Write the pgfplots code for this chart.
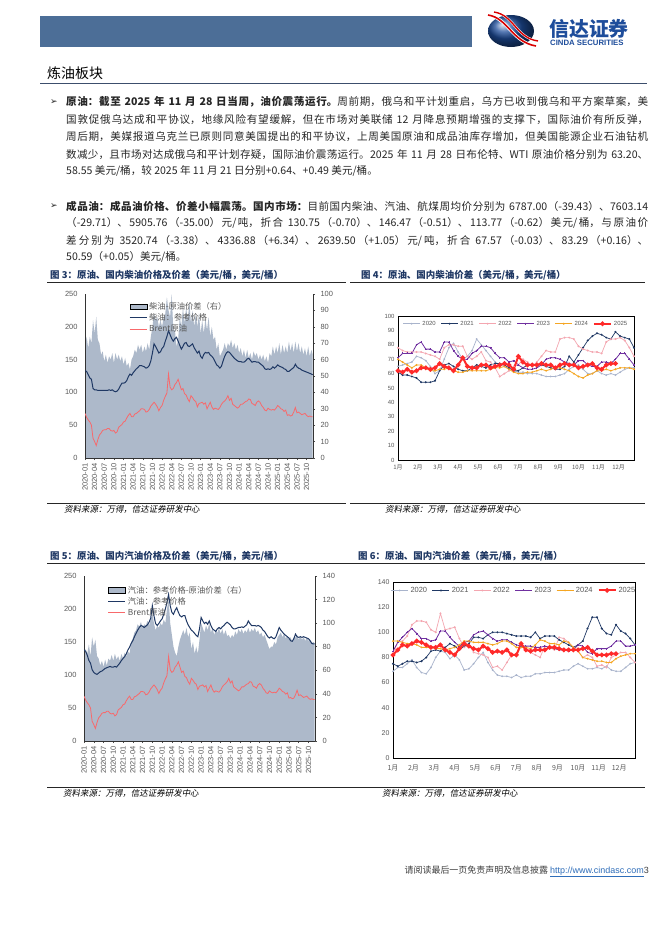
\documentclass[border=0pt]{standalone}
\usepackage{pgfplots}
\pgfplotsset{compat=1.18}
\usepackage{pgfplotstable}
\usepackage{fontspec}
\setmainfont{Noto Sans CJK SC}
\newfontfamily\arial{Liberation Sans}
\newfontfamily\dejavu{DejaVu Sans}
\newfontfamily\cjkit[FakeSlant=0.2]{Noto Sans CJK SC}
\XeTeXlinebreaklocale "zh"
\XeTeXlinebreakskip=0pt plus 1pt

\definecolor{headblue}{HTML}{4C6E97}
\definecolor{titleblue}{HTML}{1F3864}
\definecolor{logoblue}{HTML}{1E4D9B}
\definecolor{areac}{HTML}{ADB9CA}
\definecolor{navy}{HTML}{1F3864}
\definecolor{brent}{HTML}{F8696B}
\definecolor{c20}{HTML}{A9B4CC}
\definecolor{c21}{HTML}{1F3864}
\definecolor{c22}{HTML}{F4A6B0}
\definecolor{c23}{HTML}{7030A0}
\definecolor{c24}{HTML}{F5A623}
\definecolor{c25}{HTML}{FF2A2A}
\definecolor{tickgray}{HTML}{595959}
\definecolor{urlblue}{HTML}{2F6EBA}

% one justified line of body text
\newcommand\jl[1]{\parbox{582bp}{\parfillskip=0pt\spaceskip=0.3em plus 1pt\relax #1}}

% half-monthly: spread diesel, diesel, spread gasoline, gasoline, brent
\pgfplotstableread{
m s3 d s5 g b
0 66 133 74 138 68
0.5 74 132 78 136 62
1 67 127 74 130 58
1.5 74 122 82 122 55
2 70 120 72 118 50
2.5 84 106 88 108 30
3 76 104 80 104 25
3.5 86 104 86 102 19
4 72 103 72 101 28
4.5 70 103 70 103 35
5 63 103 64 105 38
5.5 65 103 68 106 42
6 59 103 63 108 43
6.5 63 103 69 110 43
7 58 103 64 111 45
7.5 62 104 70 112 45
8 60 103 68 113 42
8.5 64 104 73 112 41
9 58 102 68 112 42
9.5 64 101 74 113 38
10 60 102 69 112 40
10.5 63 105 72 115 47
11 59 110 68 118 49
11.5 62 114 74 122 51
12 57 114 70 125 55
12.5 61 115 75 128 56
13 56 118 72 132 61
13.5 58 124 76 138 65
14 54 128 74 142 68
14.5 60 126 84 148 63
15 62 130 87 152 63
15.5 66 133 92 158 67
16 64 136 94 163 68
16.5 69 138 99 168 70
17 66 141 97 172 72
17.5 69 141 101 175 75
18 64 140 96 174 75
18.5 68 139 99 172 74
19 65 137 98 174 70
19.5 70 138 102 176 71
20 66 141 98 180 74
20.5 74 148 103 186 79
21 80 160 108 205 82
21.5 88 174 100 190 85
22 84 170 94 178 82
22.5 86 165 98 175 78
23 80 160 96 178 72
23.5 84 162 100 182 77
24 80 167 98 185 80
24.5 86 170 103 192 88
25 88 178 100 200 94
25.5 98 185 112 210 99
26 90 194 120 222 128
26.5 86 188 100 205 108
27 100 182 90 195 104
27.5 78 178 80 192 106
28 78 182 75 198 112
28.5 68 184 72 202 115
29 72 178 80 195 120
29.5 86 172 86 190 112
30 80 166 90 188 104
30.5 92 170 94 190 106
31 82 175 90 190 98
31.5 92 176 96 182 96
32 84 171 88 176 90
32.5 95 170 92 172 86
33 82 172 78 168 95
33.5 90 174 84 166 92
34 80 168 74 163 88
34.5 88 164 80 160 86
35 80 160 74 158 78
35.5 88 163 86 170 83
36 76 155 100 187 84
36.5 84 152 96 182 85
37 76 158 92 178 82
37.5 85 161 98 180 84
38 78 160 94 177 75
38.5 86 161 100 182 80
39 74 157 92 175 85
39.5 80 155 96 170 78
40 72 152 90 168 74
40.5 74 147 94 166 76
41 66 142 92 170 75
41.5 70 140 96 172 74
42 62 137 91 170 77
42.5 64 140 95 173 82
43 66 148 90 175 85
43.5 70 155 94 178 87
44 66 160 89 180 90
44.5 70 162 90 178 95
45 68 161 87 176 88
45.5 72 158 90 172 91
46 67 155 88 170 82
46.5 70 152 93 170 80
47 66 150 90 171 78
47.5 69 148 95 172 76
48 64 147 92 172 78
48.5 67 147 95 173 82
49 62 146 91 172 82
49.5 66 146 94 174 84
50 61 148 92 176 86
50.5 66 151 96 182 87
51 61 152 92 178 90
51.5 64 149 95 175 89
52 60 146 93 175 83
52.5 65 147 96 175 82
53 62 147 92 174 80
53.5 64 146 94 175 85
54 60 146 90 174 87
54.5 63 144 92 172 85
55 60 142 88 168 80
55.5 63 140 90 166 77
56 59 136 86 162 73
56.5 62 135 82 158 72
57 58 136 78 156 76
57.5 64 135 80 158 74
58 62 136 80 156 73
58.5 68 139 84 155 74
59 63 137 82 158 73
59.5 68 139 88 165 76
60 64 142 90 172 80
60.5 70 140 92 168 78
61 63 139 88 165 75
61.5 69 138 91 162 74
62 64 136 87 160 71
62.5 68 135 89 158 73
63 64 132 86 156 65
63.5 71 132 88 152 66
64 65 134 84 151 64
64.5 70 136 88 155 65
65 64 138 88 162 70
65.5 71 143 90 158 77
66 65 139 86 157 69
66.5 70 137 89 158 70
67 64 136 86 157 68
67.5 68 134 88 158 66
68 63 133 85 157 67
68.5 67 132 88 156 68
69 62 131 85 155 65
69.5 68 130 86 152 63
70 62 129 83 148 64
70.5 66 128 84 147 63
70.9 63 127 83 147 63
}\pricedata

% weekly diesel spread by year (a=2020 ... f=2025)
\pgfplotstableread{
w a b c d e f
1 65 61 78 71 70 62
2 66 59 76 74 68 61
3 67 59 75 74 66 63
4 68 58 75 74 64 61
5 72 57 75 80 66 62
6 71 54 75 82 66 64
7 69 54 74 77 64 64
8 65 54 73 77 62 63
9 60 55 72 75 62 64
10 62 62 70 75 63 67
11 70 66 78 82 63 65
12 78 67 80 82 64 64
13 81 65 80 76 62 62
14 75 63 79 72 61 66
15 70 62 79 70 61 71
16 72 62 72 70 62 65
17 76 64 70 74 62 64
18 84 66 72 76 62 64
19 80 65 75 79 62 66
20 76 64 69 79 62 66
21 72 66 68 78 63 64
22 68 67 64 74 64 65
23 66 67 58 71 64 66
24 65 66 60 71 65 67
25 63 64 62 68 63 66
26 62 62 65 69 61 63
27 61 62 66 66 60 72
28 61 64 70 64 60 68
29 60 66 68 63 61 66
30 60 66 65 63 61 66
31 60 66 68 64 62 66
32 59 66 72 66 63 67
33 58 65 76 70 62 66
34 58 64 75 71 63 66
35 58 63 75 71 64 64
36 59 63 84 70 64 66
37 60 65 85 68 63 67
38 63 72 85 67 62 66
39 65 68 84 66 60 66
40 66 73 79 69 58 64
41 63 78 77 69 57 65
42 60 83 76 66 59 66
43 60 86 75 65 60 67
44 62 88 75 65 62 64
45 60 87 74 68 62 63
46 59 85 82 68 63 66
47 60 84 84 67 62 67
48 59 89 84 70 63 67
49 61 86 85 74 64 nan
50 63 85 83 74 64 nan
51 64 84 78 70 64 nan
52 64 78 72 66 63 nan
}\dieselyr

% weekly gasoline spread by year
\pgfplotstableread{
w a b c d e f
1 69 75 83 85 93 82
2 72 73 92 92 93 86
3 72 75 93 96 92 90
4 75 77 97 100 91 89
5 78 77 106 103 91 91
6 72 76 109 99 90 93
7 68 77 109 95 88 92
8 67 80 108 95 88 90
9 72 85 102 93 88 88
10 80 86 100 94 87 88
11 85 85 115 101 87 90
12 84 88 102 101 86 86
13 79 91 103 96 87 84
14 82 89 104 92 88 82
15 78 86 95 89 90 87
16 70 89 88 92 93 91
17 71 91 90 93 93 89
18 75 96 84 98 92 87
19 80 96 83 100 92 86
20 84 95 82 101 92 89
21 76 98 80 98 91 87
22 70 100 72 95 90 84
23 66 100 73 93 91 85
24 65 100 70 94 93 84
25 65 99 76 94 93 86
26 64 98 82 92 91 82
27 66 97 81 90 88 82
28 64 97 89 89 88 91
29 65 97 86 89 88 86
30 65 96 84 89 87 85
31 67 100 82 88 90 86
32 67 95 80 88 94 86
33 68 97 89 89 93 86
34 68 97 88 88 91 88
35 68 97 86 87 91 88
36 69 94 96 86 90 87
37 70 92 95 86 93 86
38 70 90 92 85 92 86
39 73 88 88 86 88 86
40 75 90 85 90 85 86
41 73 93 80 89 80 87
42 71 103 82 84 79 88
43 71 112 80 83 78 85
44 72 112 73 87 77 82
45 71 103 74 87 77 82
46 73 99 72 87 76 82
47 70 98 80 89 76 83
48 69 106 82 93 79 83
49 69 101 84 93 81 nan
50 72 99 84 89 82 nan
51 75 95 80 89 83 nan
52 76 90 76 90 83 nan
}\gasyr

\pgfplotsset{
  base/.style={scale only axis, anchor=south west,
    /pgf/number format/assume math mode=true,
    ticklabel style={font=\arial\fontsize{7.5}{8}\selectfont, text=tickgray},
    axis line style={black!80, line width=0.7bp},
    tick style={draw=black!70, line width=0.5bp}, major tick length=2bp},
  dateaxis/.style={xmin=0, xmax=71, xtick={0,3,...,69},
    xticklabels={2020-01,2020-04,2020-07,2020-10,2021-01,2021-04,2021-07,2021-10,
      2022-01,2022-04,2022-07,2022-10,2023-01,2023-04,2023-07,2023-10,
      2024-01,2024-04,2024-07,2024-10,2025-01,2025-04,2025-07,2025-10},
    xticklabel style={rotate=90, anchor=east},
    axis x line*=bottom, axis y line*=right, axis on top, tick align=outside,
    yticklabel style={xshift=2bp}},
  lineaxis/.style={axis x line=none, axis y line*=left, xmin=0, xmax=71,
    ymin=0, ymax=250, ytick={0,50,...,250}, major tick length=0bp,
    legend cell align=left, yticklabel style={xshift=-4bp},
    legend style={draw=none, fill=none, font=\fontsize{8.3}{9}\selectfont,
      text=tickgray, row sep=-1.2bp}},
  yearaxis/.style={xmin=1, xmax=52,
    xtick={1,5.33,9.67,14,18.33,22.67,27,31.33,35.67,40,44.33,48.67},
    xticklabels={1月,2月,3月,4月,5月,6月,7月,8月,9月,10月,11月,12月},
    axis line style={black, line width=1bp}, tick style={draw=none},
    legend columns=6,
    legend style={at={(0.5,0.995)}, anchor=north, draw=none, fill=none,
      text=tickgray, /tikz/every even column/.append style={column sep=3bp}}},
  y20/.style={c20, line width=0.7bp, mark=*, mark size=0.5bp},
  y21/.style={c21, line width=0.7bp, mark=*, mark size=0.6bp},
  y22/.style={c22, line width=0.7bp, mark=*, mark size=0.6bp},
  y23/.style={c23, line width=0.8bp, mark=+, mark size=1bp},
  y24/.style={c24, line width=0.8bp, mark=*, mark size=0.5bp},
  y25/.style={c25, line width=2bp, mark=*, mark size=1.2bp},
}

\begin{document}
\begin{tikzpicture}
\fill[white] (0,0) rectangle (662bp,-936bp);

\begin{scope}[x=1bp,y=-1bp]
% header
\fill[headblue] (40,16) rectangle (472,47);
\shade[ball color=logoblue] (511,31) ellipse (23 and 16);
\draw[white, line width=3.2bp] (488,15) .. controls (508,18) and (512,42) .. (536,46);
\draw[red!85!black, line width=1.6bp] (488,15) .. controls (508,18) and (512,42) .. (536,46);
\draw[white, line width=2.4bp] (494,12) .. controls (514,15) and (516,38) .. (538,41);
\draw[red!85!black, line width=1.4bp] (494,12) .. controls (514,15) and (516,38) .. (538,41);
\node[anchor=west, inner sep=0, text=logoblue] at (549,29)
  {\bfseries\fontsize{20}{20}\selectfont 信达证券};
\node[anchor=west, inner sep=0, text=logoblue] at (550,42.5)
  {\arial\bfseries\fontsize{7.8}{8}\selectfont CINDA SECURITIES};

\node[anchor=base west, inner sep=0] at (47,78) {\fontsize{14}{16}\selectfont 炼油板块};
\draw[titleblue!70!gray, line width=0.8bp] (40,83.5) -- (647,83.5);

% body text
\begin{scope}[every node/.style={anchor=base west, inner sep=0,
    font=\fontsize{10.6}{12}\selectfont, text=black!85}]
\node at (50,104.5) {\dejavu\fontsize{9}{9}\selectfont ➢};
\node at (66,105) {\jl{\textbf{原油：截至 2025 年 11 月 28 日当周，油价震荡运行。}周前期，俄乌和平计划重启，乌方已收到俄乌和平方案草案，美}};
\node at (66,122.3) {\jl{国敦促俄乌达成和平协议，地缘风险有望缓解，但在市场对美联储 12 月降息预期增强的支撑下，国际油价有所反弹，}};
\node at (66,139.6) {\jl{周后期，美媒报道乌克兰已原则同意美国提出的和平协议，上周美国原油和成品油库存增加，但美国能源企业石油钻机}};
\node at (66,156.9) {\jl{数减少，且市场对达成俄乌和平计划存疑，国际油价震荡运行。2025 年 11 月 28 日布伦特、WTI 原油价格分别为 63.20、}};
\node at (66,174.2) {58.55 美元/桶，较 2025 年 11 月 21 日分别+0.64、+0.49 美元/桶。};
\node at (50,208.3) {\dejavu\fontsize{9}{9}\selectfont ➢};
\node at (66,208.8) {\jl{\textbf{成品油：成品油价格、价差小幅震荡。国内市场：}目前国内柴油、汽油、航煤周均价分别为 6787.00（-39.43）、7603.14}};
\node at (66,226.1) {\jl{（-29.71）、5905.76（-35.00）元/吨，折合 130.75（-0.70）、146.47（-0.51）、113.77（-0.62）美元/桶，与原油价}};
\node at (66,243.4) {\jl{差分别为 3520.74（-3.38）、4336.88（+6.34）、2639.50（+1.05）元/吨，折合 67.57（-0.03）、83.29（+0.16）、}};
\node at (66,260.7) {50.59（+0.05）美元/桶。};
\end{scope}

% chart frames, titles, sources
\begin{scope}[every node/.style={inner sep=0}]
\node[anchor=base west, text=titleblue] at (50,278.5) {\bfseries\fontsize{9.5}{10}\selectfont 图 3：原油、国内柴油价格及价差（美元/桶，美元/桶）};
\node[anchor=base west, text=titleblue] at (361,278.5) {\bfseries\fontsize{9.5}{10}\selectfont 图 4：原油、国内柴油价差（美元/桶，美元/桶）};
\node[anchor=base west, text=titleblue] at (50,559) {\bfseries\fontsize{9.5}{10}\selectfont 图 5：原油、国内汽油价格及价差（美元/桶，美元/桶）};
\node[anchor=base west, text=titleblue] at (358,559) {\bfseries\fontsize{9.5}{10}\selectfont 图 6：原油、国内汽油价差（美元/桶，美元/桶）};
\draw[black!85, line width=0.9bp] (47,282) -- (346,282) (350,282) -- (645,282);
\draw[black!85, line width=0.9bp] (47,503) -- (346,503) (350,503) -- (645,503);
\draw[black!85, line width=0.9bp] (47,563) -- (350,563) (350,563) -- (645,563);
\draw[black!85, line width=0.9bp] (47,787) -- (350,787) (350,787) -- (645,787);
\node[anchor=west] at (64,509.5) {\cjkit\fontsize{8.5}{9}\selectfont 资料来源：万得，信达证券研发中心};
\node[anchor=west] at (385,509.5) {\cjkit\fontsize{8.5}{9}\selectfont 资料来源：万得，信达证券研发中心};
\node[anchor=west] at (63,793) {\cjkit\fontsize{8.5}{9}\selectfont 资料来源：万得，信达证券研发中心};
\node[anchor=west] at (382,793) {\cjkit\fontsize{8.5}{9}\selectfont 资料来源：万得，信达证券研发中心};
% footer
\node[anchor=base east] at (649,873) {\fontsize{9}{10}\selectfont\color{black!75}请阅读最后一页免责声明及信息披露 {\arial\color{urlblue}\underline{http://www.cindasc.com}}\arial 3};
\end{scope}
\end{scope}

% ---- chart 3: diesel ----
\begin{axis}[base, dateaxis, at={(85bp,-458bp)}, width=228bp, height=164bp,
  ymin=0, ymax=100, ytick={0,10,...,100}]
\addplot[fill=areac, draw=none] table[x=m,y=s3]{\pricedata} \closedcycle;
\end{axis}
\begin{axis}[base, lineaxis, at={(85bp,-458bp)}, width=228bp, height=164bp,
  legend style={at={(0.18,0.975)}, anchor=north west}]
\addlegendimage{area legend, fill=areac, draw=none}
\addlegendentry{柴油-原油价差（右）}
\addplot[navy, line width=1bp] table[x=m,y=d]{\pricedata};
\addlegendentry{柴油：参考价格}
\addplot[brent, line width=0.8bp] table[x=m,y=b]{\pricedata};
\addlegendentry{Brent原油}
\end{axis}

% ---- chart 5: gasoline ----
\begin{axis}[base, dateaxis, at={(84bp,-741bp)}, width=231bp, height=165bp,
  ymin=0, ymax=140, ytick={0,20,...,140}]
\addplot[fill=areac, draw=none] table[x=m,y=s5]{\pricedata} \closedcycle;
\end{axis}
\begin{axis}[base, lineaxis, at={(84bp,-741bp)}, width=231bp, height=165bp,
  legend style={at={(0.09,0.965)}, anchor=north west}]
\addlegendimage{area legend, fill=areac, draw=none}
\addlegendentry{汽油：参考价格-原油价差（右）}
\addplot[navy, line width=1bp] table[x=m,y=g]{\pricedata};
\addlegendentry{汽油：参考价格}
\addplot[brent, line width=0.8bp] table[x=m,y=b]{\pricedata};
\addlegendentry{Brent原油}
\end{axis}

% ---- chart 4: diesel spread by year ----
\begin{axis}[base, yearaxis, at={(398bp,-460bp)}, width=236bp, height=144bp,
  ymin=0, ymax=100, ytick={0,10,...,100},
  ticklabel style={font=\arial\fontsize{6}{7}\selectfont},
  xticklabel style={font=\fontsize{6}{7}\selectfont, yshift=-1bp},
  legend style={font=\arial\fontsize{6}{7}\selectfont}]
\addplot[y20] table[x=w,y=a]{\dieselyr}; \addlegendentry{2020}
\addplot[y21] table[x=w,y=b]{\dieselyr}; \addlegendentry{2021}
\addplot[y22] table[x=w,y=c]{\dieselyr}; \addlegendentry{2022}
\addplot[y23] table[x=w,y=d]{\dieselyr}; \addlegendentry{2023}
\addplot[y24] table[x=w,y=e]{\dieselyr}; \addlegendentry{2024}
\addplot[y25] table[x=w,y=f]{\dieselyr}; \addlegendentry{2025}
\end{axis}

% ---- chart 6: gasoline spread by year ----
\begin{axis}[base, yearaxis, at={(393bp,-758bp)}, width=242bp, height=176bp,
  ymin=0, ymax=140, ytick={0,20,...,140},
  ticklabel style={font=\arial\fontsize{7}{8}\selectfont},
  xticklabel style={font=\fontsize{7}{8}\selectfont, yshift=-3bp},
  legend style={font=\arial\fontsize{7.5}{8}\selectfont}]
\addplot[y20] table[x=w,y=a]{\gasyr}; \addlegendentry{2020}
\addplot[y21] table[x=w,y=b]{\gasyr}; \addlegendentry{2021}
\addplot[y22] table[x=w,y=c]{\gasyr}; \addlegendentry{2022}
\addplot[y23] table[x=w,y=d]{\gasyr}; \addlegendentry{2023}
\addplot[y24] table[x=w,y=e]{\gasyr}; \addlegendentry{2024}
\addplot[y25] table[x=w,y=f]{\gasyr}; \addlegendentry{2025}
\end{axis}
\end{tikzpicture}
\end{document}
